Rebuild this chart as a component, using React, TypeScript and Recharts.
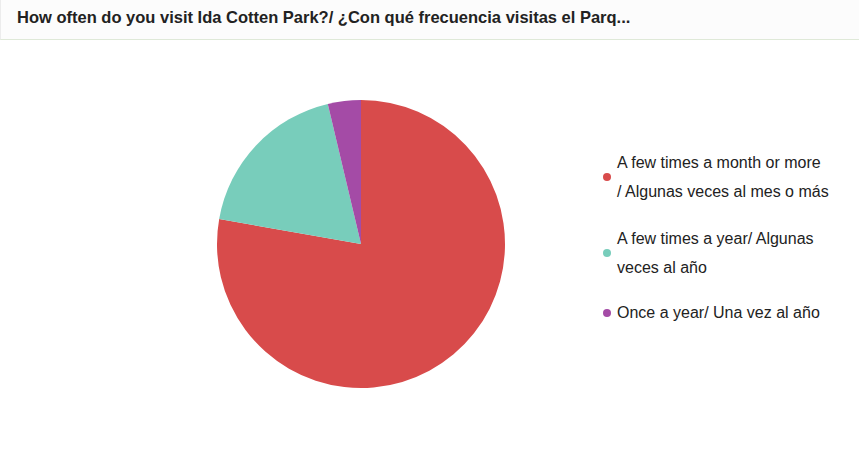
import React from "react";
import { PieChart, Pie, Cell, Legend } from "recharts";

const categories = [
  "A few times a month or more / Algunas veces al mes o más",
  "A few times a year/ Algunas veces al año",
  "Once a year/ Una vez al año",
];
const legendLines = [
  ["A few times a month or more", "/ Algunas veces al mes o más"],
  ["A few times a year/ Algunas", "veces al año"],
  ["Once a year/ Una vez al año"],
];
const values = [21, 5, 1];
const colors = ["#d84b4b", "#78cdbb", "#a44ba6"];
const title = "How often do you visit Ida Cotten Park?/ ¿Con qué frecuencia visitas el Parq...";

const data = categories.map((name, i) => ({ name, value: values[i], idx: i }));

const font = "Arial, 'Liberation Sans', Helvetica, sans-serif";

const LegendContent = (props: any) => {
  const payload = props.payload || [];
  return (
    <div style={{ fontFamily: font, fontSize: 16, color: "#222" }}>
      {payload.map((p: any, i: number) => (
        <div key={i} style={{ display: "flex", alignItems: "center", marginBottom: i === 0 ? 18 : 16 }}>
          <div style={{ width: 8, height: 8, borderRadius: 4, background: p.color, marginRight: 6, flexShrink: 0 }} />
          <div style={{ lineHeight: "29px", whiteSpace: "nowrap" }}>
            {legendLines[i].map((l, j) => (
              <div key={j}>{l}</div>
            ))}
          </div>
        </div>
      ))}
    </div>
  );
};

export default function App() {
  return (
    <div style={{ position: "absolute", left: 0, top: 0, width: 859, height: 472, background: "#fff", overflow: "hidden" }}>
      <div
        style={{
          position: "absolute",
          left: 0,
          top: 0,
          width: 859,
          height: 40,
          background: "#fcfcfc",
          borderBottom: "1px solid #dfe9d8",
          borderLeft: "1px solid #ececec",
          boxSizing: "border-box",
        }}
      >
        <div style={{ position: "absolute", left: 16, top: 8, fontFamily: font, fontWeight: "bold", fontSize: 16.5, color: "#222", whiteSpace: "nowrap" }}>
          {title}
        </div>
      </div>
      <div style={{ position: "absolute", left: 0, top: 0 }}>
        <PieChart width={859} height={472}>
          <Pie
            data={data}
            dataKey="value"
            nameKey="name"
            cx={356}
            cy={239}
            outerRadius={144}
            startAngle={90}
            endAngle={-270}
            stroke="none"
            isAnimationActive={false}
          >
            {data.map((d, i) => (
              <Cell key={i} fill={colors[i]} />
            ))}
          </Pie>
          <Legend
            content={<LegendContent />}
            layout="vertical"
            wrapperStyle={{ position: "absolute", left: 603, top: 148, width: 256 }}
          />
        </PieChart>
      </div>
    </div>
  );
}
